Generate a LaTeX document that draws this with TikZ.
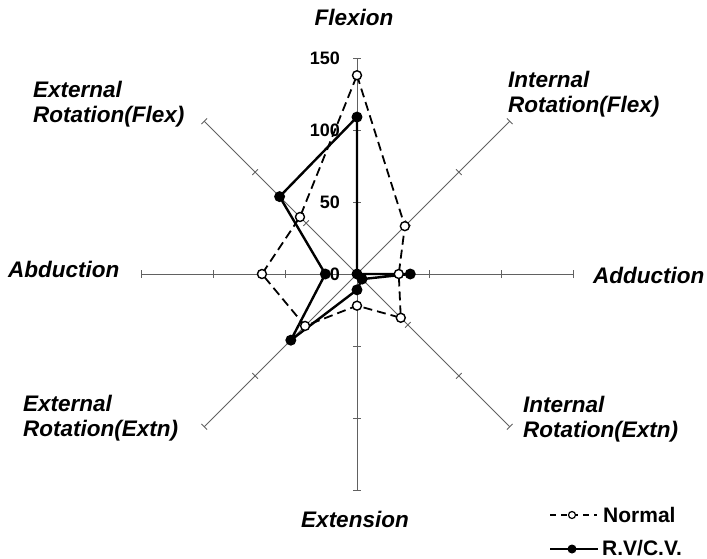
\documentclass[tikz,border=0pt]{standalone}
\usepackage{fontspec}
\setmainfont{Liberation Sans}
\begin{document}
\begin{tikzpicture}[x=1pt,y=1pt,
  axis/.style={draw=black!62, line width=0.9pt},
  normline/.style={line width=1.8pt, dash pattern=on 9pt off 5pt},
  rvline/.style={line width=2.4pt},
  normmark/.style={circle, draw=black, line width=1.4pt, fill=white, inner sep=0pt, minimum size=9pt},
  rvmark/.style={circle, fill=black, inner sep=0pt, minimum size=11pt},
  axlabel/.style={font=\fontsize{22.5}{25}\selectfont\bfseries\itshape, inner sep=0pt, align=left},
  ticklabel/.style={font=\fontsize{18}{20}\selectfont\bfseries, inner sep=0pt, anchor=east},
  legtext/.style={font=\fontsize{21}{24}\selectfont\bfseries, inner sep=0pt, anchor=base west}]
\useasboundingbox (-357,-284) rectangle (350,274);
\coordinate (O) at (0,0);
% axes with ticks
\foreach \a/\n in {90/fl,45/irf,0/add,-45/ire,-90/ext,-135/ere,180/abd,135/erf} {
  \coordinate (end\n) at (\a:216);
  \draw[axis] (O) -- (end\n);
  \foreach \r in {72,144,216} \draw[axis, rotate=\a] (\r,-4) -- (\r,4);
}
% tick labels
\node[ticklabel] (t0) at (-17,0) {0};
\node[ticklabel] (t50) at (-17,72) {50};
\node[ticklabel] (t100) at (-17,144) {100};
\node[ticklabel] (t150) at (-17,216) {150};
% data: Normal
\foreach \a/\v/\n in {90/138/n1,45/47/n2,0/29/n3,-45/43/n4,-90/22/n5,-135/51/n6,180/66/n7,135/56/n8}
  \coordinate (\n) at (\a:{\v*1.44});
% data: R.V/C.V.
\foreach \a/\v/\n in {90/109/r1,45/0/r2,0/37/r3,-45/5/r4,-90/11/r5,-135/65/r6,180/22/r7,135/76/r8}
  \coordinate (\n) at (\a:{\v*1.44});
\draw[normline] (n1) -- (n2) -- (n3) -- (n4) -- (n5) -- (n6) -- (n7) -- (n8) -- cycle;
\draw[rvline, line join=round] (r1) -- (r2) -- (r3) -- (r4) -- (r5) -- (r6) -- (r7) -- (r8) -- cycle;
\foreach \n in {n1,n2,n3,n4,n5,n6,n7,n8} \node[normmark] (m\n) at (\n) {};
\foreach \n in {r1,r2,r3,r4,r5,r6,r7,r8} \node[rvmark] (m\n) at (\n) {};
% axis labels
\node[axlabel, anchor=base] (lfl) at (-3,249) {Flexion};
\node[axlabel, anchor=north west] (lerf) at (-324,193) {External\\Rotation(Flex)};
\node[axlabel, anchor=north west] (lirf) at (151,203) {Internal\\Rotation(Flex)};
\node[axlabel, anchor=base west] (labd) at (-349,-3) {Abduction};
\node[axlabel, anchor=base west] (ladd) at (236,-9) {Adduction};
\node[axlabel, anchor=north west] (lere) at (-334,-121) {External\\Rotation(Extn)};
\node[axlabel, anchor=north west] (lire) at (166,-122) {Internal\\Rotation(Extn)};
\node[axlabel, anchor=base] (lext) at (-2,-253) {Extension};
% legend
\coordinate (la1) at (193,-241); \coordinate (lb1) at (240,-241);
\coordinate (la2) at (193,-275); \coordinate (lb2) at (241,-275);
\draw[line width=1.8pt, dash pattern=on 6pt off 5pt] (la1) -- (lb1);
\node[normmark, minimum size=7pt, line width=1.2pt] (lm1) at (215,-241) {};
\node[legtext] (lt1) at (246,-248) {Normal};
\draw[rvline] (la2) -- (lb2);
\node[rvmark, minimum size=9pt] (lm2) at (215,-275) {};
\node[legtext] (lt2) at (245,-281) {R.V/C.V.};
\end{tikzpicture}
\end{document}
